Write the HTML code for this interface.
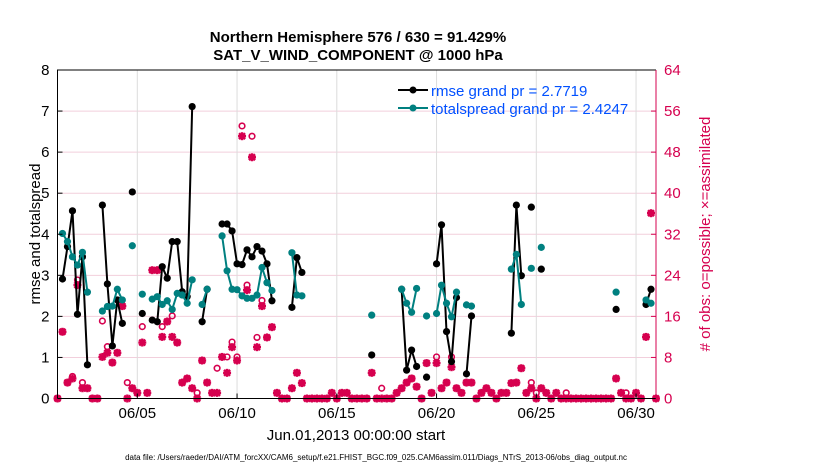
<!DOCTYPE html>
<html><head><meta charset="utf-8"><style>
body{margin:0;background:#fff}
svg{display:block;font-family:"Liberation Sans",sans-serif}
</style></head><body>
<svg id="chart" width="830" height="470" viewBox="0 0 830 470" xmlns="http://www.w3.org/2000/svg">
<rect x="0" y="0" width="830" height="470" fill="#fff"/>
<text x="358" y="42" text-anchor="middle" font-size="15" font-weight="bold">Northern Hemisphere 576 / 630 = 91.429%</text>
<text x="358" y="60" text-anchor="middle" font-size="15" font-weight="bold">SAT_V_WIND_COMPONENT @ 1000 hPa</text>
<g id="grid"></g>
<g id="marks"></g>
<g id="axes"></g>
<text transform="translate(40,234) rotate(-90)" text-anchor="middle" font-size="15">rmse and totalspread</text>
<text transform="translate(710,234) rotate(-90)" text-anchor="middle" font-size="15" fill="#d6004f">&#35; of obs: o=possible; &#215;=assimilated</text>
<text x="356" y="440" text-anchor="middle" font-size="15">Jun.01,2013 00:00:00 start</text>
<text x="376" y="460" text-anchor="middle" font-size="8">data file: /Users/raeder/DAI/ATM_forcXX/CAM6_setup/f.e21.FHIST_BGC.f09_025.CAM6assim.011/Diags_NTrS_2013-06/obs_diag_output.nc</text>
<g>
<line x1="398" y1="90" x2="428" y2="90" stroke="#000" stroke-width="2"/>
<circle cx="413" cy="90" r="3.5" fill="#000"/>
<text x="431" y="96" font-size="15" fill="#0050ff">rmse grand pr = 2.7719</text>
<line x1="398" y1="108" x2="428" y2="108" stroke="#008080" stroke-width="2"/>
<circle cx="413" cy="108" r="3.5" fill="#008080"/>
<text x="431" y="114" font-size="15" fill="#0050ff">totalspread grand pr = 2.4247</text>
</g>
</svg>
<script>
// 6-hourly slots, k=0 => 06/01 00:00
const rmseK = [1,2,3,4,5,6, 9,10,11,12,13, 15, 17, 19,20,21,22,23,24,25,26,27, 29,30, 33,34,35,36,37,38,39,40,41,42,43, 47,48,49, 63, 69,70,71,72, 74, 76,77,78,79,80, 82,83, 91,92,93, 95, 97, 112, 118,119];
const rmseV = [2.91,3.7,4.57,2.05,3.45,0.82, 4.71,2.79,1.28,2.4,1.83, 5.03, 2.07, 1.91,1.87,3.21,2.93,3.82,3.82,2.6,2.48,7.11, 1.87,2.66, 4.25,4.25,4.08,3.28,3.26,3.62,3.45,3.70,3.59,3.28,2.38, 2.22,3.43,3.07, 1.06, 2.66,0.69,1.18,0.78, 0.52, 3.28,4.23,1.63,0.90,2.46, 0.60,2.01, 1.59,4.71,2.99, 4.66, 3.15, 2.17, 2.29,2.66];
const spreadK = [1,2,3,4,5,6, 9,10,11,12,13, 15, 17, 19,20,21,22,23,24,25,26,27, 29,30, 33,34,35,36,37,38,39,40,41,42,43, 47,48,49, 63, 69,70,71,72, 74, 76,77,78,79,80, 82,83, 91,92,93, 95, 97, 112, 118,119];
const spreadV = [4.02,3.82,3.45,3.25,3.56,2.59, 2.13,2.24,2.25,2.66,2.40, 3.72, 2.54, 2.42,2.48,2.29,2.38,2.17,2.56,2.52,2.32,2.89, 2.29,2.66, 3.96,3.11,2.66,2.65,2.50,2.44,2.44,2.52,3.19,2.82,2.63, 3.55,2.52,2.50, 2.03, 2.66,2.32,2.10,2.68, 2.01, 2.07,2.76,2.32,1.99,2.59, 2.28,2.25, 3.15,3.51,2.29, 3.17, 3.68, 2.59, 2.40,2.32];
const assimV = [0,13,3.1,3.9,22.1,2,2,0,0,8.1,8.9,7,8.9,18,0,2,1.1,10.9,1.1,25,25,12,15,12,10.9,3.1,3.9,2,0,7.4,3.1,1.1,1.1,8.1,5,10,7.4,51.1,21.1,47,10,18,11.9,13.9,1.1,0,0,2,5,3,0,0,0,0,0,1.1,0,1.1,1.1,0,0,0,0,5,0,0,0,0,1.1,2,3.1,3.9,2.3,0,6.9,1.1,6.9,2,3.1,6.1,2,1.1,3.1,3.1,0,1.1,2,1.1,0,1.1,1.1,3,3.1,5.9,1.1,2,0,2,1.1,0,1.1,0,0,0,0,0,0,0,0,0,0,0,3.9,1.1,0,0,1.1,0,12,36.1,0];
const possibleV = [0,13,3.1,4.3,23.1,3.1,2,0,0,15.1,10.1,7,8.9,18,3.1,2,1.1,14,1.1,25,25,14,15,16.1,10.9,3.1,3.9,2,1.1,7.4,3.1,1.1,5.9,8.1,8.1,11,8.1,53.1,22.1,51.1,11.9,19.1,11.9,13.9,1.1,0,0,2,5,3,0,0,0,0,0,1.1,0,1.1,1.1,0,0,0,0,5,0,2,0,0,1.1,2,3.1,3.9,2.3,0,6.9,1.1,8.1,2,3.1,8.1,2,1.1,3.1,3.1,0,1.1,2,1.1,0,1.1,1.1,3,3.1,5.9,1.1,3.1,1.1,2,1.1,0,1.1,0,1.1,0,0,0,0,0,0,0,0,0,3.9,1.1,1.1,0,1.1,0,12,36.1,0];
const xTickDays = [5,10,15,20,25,30];
const xTickLabels = ["06/05","06/10","06/15","06/20","06/25","06/30"];
const yLeftTicks = [0,1,2,3,4,5,6,7,8];
const yRightTicks = [0,8,16,24,32,40,48,56,64];

const NS="http://www.w3.org/2000/svg";
const L=57.5,R=656,T=70,B=398.5;
const xDay=d=>L+(d-1)*(R-L)/30;
const xK=k=>xDay(1+k*0.25);
const yL=v=>B-v*(B-T)/8;
const yR=v=>B-v*(B-T)/64;
function mk(tag,attrs,parent){const e=document.createElementNS(NS,tag);for(const a in attrs)e.setAttribute(a,attrs[a]);parent.appendChild(e);return e;}
const grid=document.getElementById('grid'),marks=document.getElementById('marks'),axes=document.getElementById('axes');
const MAG="#d6004f";
yLeftTicks.forEach(v=>{
  if(v>0&&v<8){const g=mk('line',{x1:L,x2:R,y1:yL(v),y2:yL(v),stroke:'#f2cfdc','stroke-width':1},grid);
  
  }
  const t=mk('text',{x:L-8,y:yL(v)+5,'text-anchor':'end','font-size':15},axes);t.textContent=v;
  
  
  mk('line',{x1:L,x2:L+5,y1:yL(v),y2:yL(v),stroke:'#000'},axes);
});
yRightTicks.forEach(v=>{
  const t=mk('text',{x:R+8,y:yR(v)+5,'font-size':15,fill:MAG},axes);t.textContent=v;
  
  
  mk('line',{x1:R-5,x2:R,y1:yR(v),y2:yR(v),stroke:MAG},axes);
});
xTickDays.forEach((d,i)=>{
  const g=mk('line',{x1:xDay(d),x2:xDay(d),y1:T,y2:B,stroke:'#dcdcdc'},grid);
  
  
  mk('line',{x1:xDay(d),x2:xDay(d),y1:B,y2:B-5,stroke:'#000'},axes);
  const t=mk('text',{x:xDay(d),y:418,'text-anchor':'middle','font-size':15},axes);t.textContent=xTickLabels[i];
  
  
});
mk('path',{d:`M${L},${B}V${T}H${R}`,fill:'none',stroke:'#000','stroke-width':1},axes);
mk('line',{x1:L,x2:R,y1:B,y2:B,stroke:'#000'},axes);
mk('line',{x1:R,x2:R,y1:T,y2:B,stroke:MAG},axes);

possibleV.forEach((v,k)=>{
  const c=mk('circle',{cx:xK(k),cy:yR(v),r:2.8,fill:'none',stroke:MAG,'stroke-width':1.6},marks);
  
  
});
assimV.forEach((v,k)=>{
  const x=xK(k),y=yR(v);
  const g=mk('g',{stroke:MAG,'stroke-width':2.4},marks);
  
  
  mk('line',{x1:x-4,x2:x+4,y1:y,y2:y},g);
  mk('line',{x1:x,x2:x,y1:y-4,y2:y+4},g);
  mk('line',{x1:x-3,x2:x+3,y1:y-3,y2:y+3},g);
  mk('line',{x1:x-3,x2:x+3,y1:y+3,y2:y-3},g);
});
function series(K,V,color,name){
  let d='';
  K.forEach((k,i)=>{d+=(i>0&&K[i-1]===k-1?'L':'M')+xK(k).toFixed(1)+','+yL(V[i]).toFixed(1);});
  const p=mk('path',{d:d,fill:'none',stroke:color,'stroke-width':2},marks);
  
  
  K.forEach((k,i)=>{
    const c=mk('circle',{cx:xK(k),cy:yL(V[i]),r:3.6,fill:color},marks);
    
    
  });
}
series(rmseK,rmseV,'#000','rmse');
series(spreadK,spreadV,'#008080','totalspread');
</script>
</body></html>
